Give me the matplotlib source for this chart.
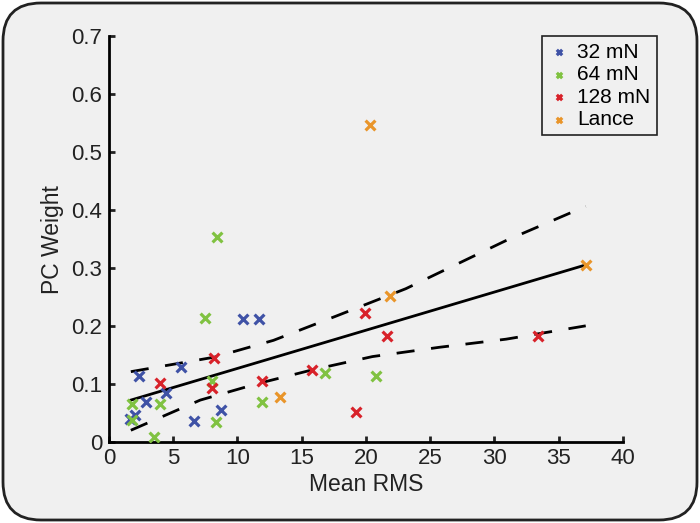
import numpy as np
import matplotlib
matplotlib.use("Agg")
import matplotlib.pyplot as plt
from matplotlib.patches import FancyBboxPatch
from matplotlib.transforms import IdentityTransform
from matplotlib.ticker import FuncFormatter

plt.rcParams['font.family'] = ['Liberation Sans', 'DejaVu Sans']

# data
x_32 = [2.3, 5.6, 10.4, 11.7, 2.9, 4.4, 2.0, 1.6, 6.6, 8.7]
y_32 = [0.115, 0.130, 0.212, 0.212, 0.070, 0.085, 0.048, 0.040, 0.037, 0.056]

x_64 = [8.4, 7.5, 8.0, 1.8, 1.8, 4.0, 3.5, 8.3, 11.9, 16.8, 20.8]
y_64 = [0.354, 0.215, 0.106, 0.066, 0.039, 0.066, 0.009, 0.036, 0.070, 0.119, 0.115]

x_128 = [4.0, 8.2, 8.0, 11.9, 15.8, 19.2, 19.9, 21.6, 33.4]
y_128 = [0.103, 0.146, 0.093, 0.106, 0.125, 0.052, 0.223, 0.183, 0.183]

x_lance = [13.3, 21.9, 37.1, 20.3]
y_lance = [0.079, 0.253, 0.306, 0.547]

fit_x = [1.7, 37.1]
fit_y = [0.073, 0.306]

upper_x = [1.7, 8.2, 12.8, 17.7, 23.1, 30.9, 37.1]
upper_y = [0.122, 0.147, 0.176, 0.218, 0.265, 0.348, 0.407]

lower_x = [1.7, 7.1, 11.5, 15.8, 20.5, 25.7, 30.9, 37.1]
lower_y = [0.021, 0.073, 0.101, 0.125, 0.148, 0.164, 0.178, 0.201]

series = [
    (x_32, y_32, '#3f52a6', '32 mN'),
    (x_64, y_64, '#80c241', '64 mN'),
    (x_128, y_128, '#d8222a', '128 mN'),
    (x_lance, y_lance, '#e9952a', 'Lance'),
]

bg = '#f0f0f0'
fig = plt.figure(figsize=(7, 5.23), dpi=100, facecolor='white')

# rounded panel frame, behind the axes
frame = FancyBboxPatch((3, 3), 694, 517, boxstyle="round,pad=0,rounding_size=38",
                       transform=IdentityTransform(), facecolor=bg,
                       edgecolor='#222222', lw=2.0, zorder=-10)
fig.patches.append(frame)

ax = fig.add_axes([0.1557, 0.154, 0.7343, 0.7766])
ax.set_facecolor(bg)
ax.set_zorder(1)

for xs, ys, c, lab in series:
    ax.scatter(xs, ys, marker='x', s=50, color=c, linewidths=2.3, label=lab, zorder=3)

ax.plot(fit_x, fit_y, color='black', lw=2.0, zorder=2)
ax.plot(upper_x, upper_y, color='black', lw=2.0, dashes=(6.5, 6), zorder=2)
ax.plot(lower_x, lower_y, color='black', lw=2.0, dashes=(6.5, 6), zorder=2)

ax.set_xlim(0, 40)
ax.set_ylim(0, 0.7)
ax.set_xticks(np.arange(0, 41, 5))
ax.set_yticks(np.arange(0, 0.71, 0.1))
ax.yaxis.set_major_formatter(FuncFormatter(lambda v, p: '%g' % round(v, 1)))

for s in ['top', 'right']:
    ax.spines[s].set_visible(False)
for s in ['left', 'bottom']:
    ax.spines[s].set_linewidth(2.0)
    ax.spines[s].set_color('black')
ax.tick_params(direction='in', length=4, width=2, labelsize=16, colors='#222222', pad=4)
ax.tick_params(axis='y', pad=5)

ax.set_xlabel('Mean RMS', fontsize=16.5, color='#222222', labelpad=3)
ax.set_ylabel('PC Weight', fontsize=16.5, color='#222222', labelpad=5)

leg = ax.legend(loc='upper right', bbox_to_anchor=(1.066, 1.0), fontsize=15,
                markerscale=0.55, handletextpad=0.4, handlelength=1.0,
                borderpad=0.3, labelspacing=0.17, fancybox=False,
                frameon=True, borderaxespad=0)
leg.get_frame().set_edgecolor('#222222')
leg.get_frame().set_facecolor(bg)
leg.get_frame().set_linewidth(1.2)
leg.get_frame().set_alpha(1)

fig.savefig('out.png', dpi=100, facecolor='white')
